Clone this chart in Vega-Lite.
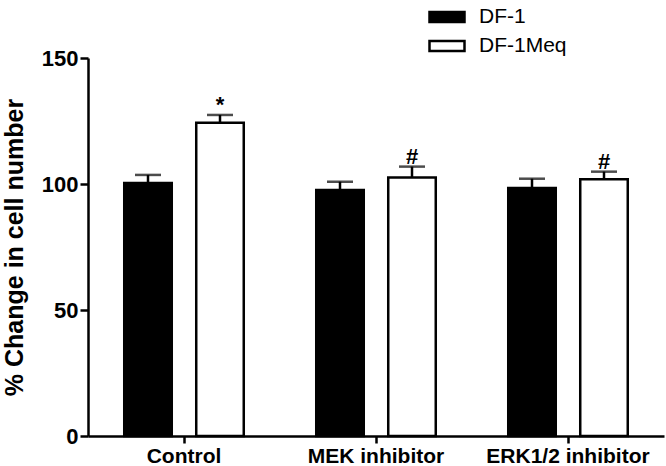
{
  "$schema": "https://vega.github.io/schema/vega-lite/v6.json",
  "width": 576,
  "height": 378,
  "autosize": {"type": "none"},
  "padding": {"left": 88, "top": 58, "right": 2, "bottom": 30},
  "background": "white",
  "config": {
    "view": {"stroke": null},
    "font": "Liberation Sans"
  },
  "data": {
    "values": [
      {"group": "Control", "cell": "DF-1", "mean": 100.4, "upper": 103.6, "sig": ""},
      {"group": "Control", "cell": "DF-1Meq", "mean": 124.3, "upper": 127.4, "sig": "*"},
      {"group": "MEK inhibitor", "cell": "DF-1", "mean": 97.6, "upper": 100.9, "sig": ""},
      {"group": "MEK inhibitor", "cell": "DF-1Meq", "mean": 102.6, "upper": 106.9, "sig": "#"},
      {"group": "ERK1/2 inhibitor", "cell": "DF-1", "mean": 98.4, "upper": 102.1, "sig": ""},
      {"group": "ERK1/2 inhibitor", "cell": "DF-1Meq", "mean": 101.9, "upper": 104.9, "sig": "#"}
    ]
  },
  "encoding": {
    "x": {
      "field": "group",
      "type": "nominal",
      "sort": ["Control", "MEK inhibitor", "ERK1/2 inhibitor"],
      "scale": {"paddingInner": 0.25, "paddingOuter": 0.125},
      "axis": {
        "title": null,
        "labelAngle": 0,
        "labelFont": "Liberation Sans",
        "labelFontSize": 21,
        "labelFontWeight": "bold",
        "labelColor": "black",
        "labelPadding": 2,
        "tickSize": 7,
        "tickWidth": 2.5,
        "tickColor": "black",
        "domainColor": "black",
        "domainWidth": 2.5
      }
    },
    "xOffset": {
      "field": "cell",
      "type": "nominal",
      "sort": ["DF-1", "DF-1Meq"],
      "scale": {"paddingInner": 0.34, "paddingOuter": 0.17}
    }
  },
  "layer": [
    {
      "mark": {"type": "bar", "stroke": "black", "strokeWidth": 2.5},
      "encoding": {
        "y": {
          "field": "mean",
          "type": "quantitative",
          "scale": {"domain": [0, 150], "nice": false},
          "axis": {
            "title": "% Change in cell number",
            "titleFont": "Liberation Sans",
            "titleFontSize": 25,
            "titleFontWeight": "bold",
            "titleColor": "black",
            "titlePadding": 14,
            "values": [0, 50, 100, 150],
            "grid": false,
            "labelFont": "Liberation Sans",
            "labelFontSize": 22,
            "labelFontWeight": "bold",
            "labelColor": "black",
            "labelPadding": 2,
            "tickSize": 8,
            "tickWidth": 2.5,
            "tickColor": "black",
            "domainColor": "black",
            "domainWidth": 2.5
          }
        },
        "fill": {
          "field": "cell",
          "type": "nominal",
          "scale": {"domain": ["DF-1", "DF-1Meq"], "range": ["black", "white"]},
          "legend": {
            "title": null,
            "orient": "none",
            "legendX": 340,
            "legendY": -60,
            "symbolType": "M-1,-0.28H1V0.28H-1Z",
            "symbolSize": 1225,
            "symbolStrokeColor": "black",
            "symbolStrokeWidth": 2.5,
            "labelFont": "Liberation Sans",
            "labelFontSize": 21,
            "labelColor": "black",
            "labelOffset": 13,
            "rowPadding": -6
          }
        }
      }
    },
    {
      "mark": {"type": "rule", "stroke": "black", "strokeWidth": 2.5},
      "encoding": {
        "y": {"field": "mean", "type": "quantitative"},
        "y2": {"field": "upper"}
      }
    },
    {
      "mark": {"type": "tick", "color": "black", "size": 26, "thickness": 2.5},
      "encoding": {
        "y": {"field": "upper", "type": "quantitative"}
      }
    },
    {
      "mark": {"type": "text", "font": "Liberation Sans", "fontSize": 22, "fontWeight": "bold", "color": "black", "baseline": "alphabetic", "dy": -3},
      "encoding": {
        "y": {"field": "upper", "type": "quantitative"},
        "text": {"field": "sig"}
      }
    }
  ]
}
